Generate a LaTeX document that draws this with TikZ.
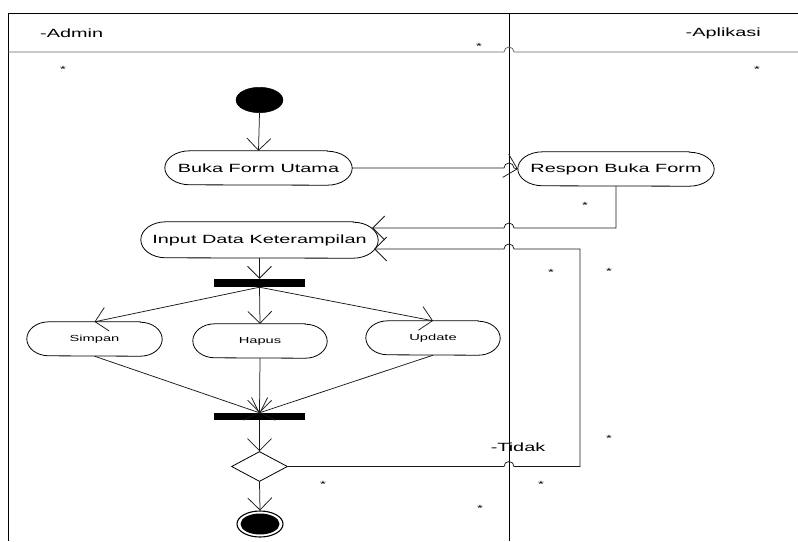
\documentclass[tikz,border=0pt]{standalone}
\usepackage{fontspec}
\setmainfont[FakeStretch=1.67]{Liberation Sans}
\usetikzlibrary{arrows.meta,shapes.geometric,calc}
\newcommand\stadium[3]{%
  \draw[shapeline] ([xshift=-#2pt]#1.north east) -- ([xshift=#2pt]#1.north west)
    arc[start angle=270,end angle=90,x radius=#2,y radius=#3]
    -- ([xshift=-#2pt]#1.south east)
    arc[start angle=90,end angle=-90,x radius=#2,y radius=#3] -- cycle;}
\begin{document}
\begin{tikzpicture}[x=1pt,y=-1pt,
  shapeline/.style={line width=0.8pt,black},
  act/.style={rectangle,inner sep=0pt,font=\fontsize{11.9}{14}\selectfont},
  sact/.style={rectangle,inner sep=0pt,font=\fontsize{8.8}{10}\selectfont},
  lbl/.style={inner sep=0pt,font=\fontsize{11.9}{14}\selectfont},
  ast/.style={inner sep=0pt,font=\fontsize{9}{10}\selectfont},
  bar/.style={fill=black,inner sep=0pt,minimum width=91pt},
  flow/.style={line width=0.75pt,black!90,-{Straight Barb[length=12pt,width=24pt,line width=0.75pt]}},
  lane/.style={line width=0.9pt,black}]
\useasboundingbox (0,0) rectangle (798,541);
% swimlanes
\draw[lane] (8,541) -- (8,13) -- (798,13);
\draw[lane] (509,13) -- (509,541);
\draw[line width=0.8pt,black!60] (8,52) -- (504,52) arc[start angle=180,end angle=360,radius=5] -- (798,52);
\node[lbl,anchor=west] (admin) at (40,33) {-Admin};
\node[lbl,anchor=east] (apl) at (761,33) {-Aplikasi};
% nodes
\node[draw,fill=black,ellipse,minimum width=47pt,minimum height=25.5pt,inner sep=0pt] (start) at (259.5,100) {};
\node[act,minimum width=187pt,minimum height=34pt] (buka) at (258.5,168) {Buka Form Utama};
\stadium{buka}{25}{17}
\node[act,minimum width=196pt,minimum height=34pt] (resp) at (616,169) {Respon Buka Form};
\stadium{resp}{25}{17}
\node[act,minimum width=237pt,minimum height=36pt] (inp) at (259.5,240) {Input Data Keterampilan};
\stadium{inp}{25}{18}
\node[bar,minimum height=8pt] (fork) at (259.5,283) {};
\node[sact,minimum width=135pt,minimum height=34pt] (simp) at (94.5,339) {Simpan};
\stadium{simp}{22}{17}
\node[sact,minimum width=134pt,minimum height=34pt] (hap) at (260,341) {Hapus};
\stadium{hap}{22}{17}
\node[sact,minimum width=134pt,minimum height=34pt] (upd) at (433,338) {Update};
\stadium{upd}{22}{17}
\node[bar,minimum height=7pt] (join) at (259.5,416.5) {};
\node[draw,diamond,aspect=1.87,minimum width=56pt,minimum height=30pt,inner sep=0pt,line width=0.8pt] (dec) at (259.5,466.5) {};
\node[draw,ellipse,line width=1.1pt,minimum width=46pt,minimum height=26pt,inner sep=0pt] (fin) at (260,524) {};
\fill (fin.center) ellipse[x radius=19.5,y radius=10.5];
\node[lbl] (tidak) at (518,447) {-Tidak};
% helper coordinates
\coordinate (inpA) at ($(inp.east)+(-6,-12)$);
\coordinate (inpB) at ($(inp.east)+(-4,9)$);
\coordinate (rdown) at (616,228);
\coordinate (loopR) at (580,466.5);
\coordinate (loopT) at (580,249);
% connectors
\draw[flow] (start.south) -- (buka.north);
\draw[flow] (buka.east) -- (504,168) arc[start angle=180,end angle=360,radius=5] -- (resp.west);
\draw[flow] (resp.south) -- (rdown) -- (514,228) arc[start angle=0,end angle=-180,radius=5] -- (inpA);
\draw[flow] (inp.south) -- (fork.north);
\draw[flow] (fork.south) -- (simp.north);
\draw[flow] (fork.south) -- (hap.north);
\draw[flow] (fork.south) -- (upd.north);
\draw[flow] (simp.south) -- (join.north);
\draw[flow] (hap.south) -- (join.north);
\draw[flow] (upd.south) -- (join.north);
\draw[flow] (join.south) -- (dec.north);
\draw[flow] (dec.south) -- (fin.north);
\draw[flow] (dec.east) -- (504,466.5) arc[start angle=180,end angle=360,radius=5] -- (loopR) -- (loopT) -- (514,249) arc[start angle=0,end angle=-180,radius=5] -- (inpB);
% asterisks
\node[ast] (s1) at (479,46) {*};
\node[ast] (s2) at (63,69) {*};
\node[ast] (s3) at (757,69) {*};
\node[ast] (s4) at (585,205) {*};
\node[ast] (s5) at (551,272) {*};
\node[ast] (s6) at (609,271) {*};
\node[ast] (s7) at (609,438) {*};
\node[ast] (s8) at (323,484) {*};
\node[ast] (s9) at (541,484) {*};
\node[ast] (s10) at (480,508) {*};
\end{tikzpicture}
\end{document}
